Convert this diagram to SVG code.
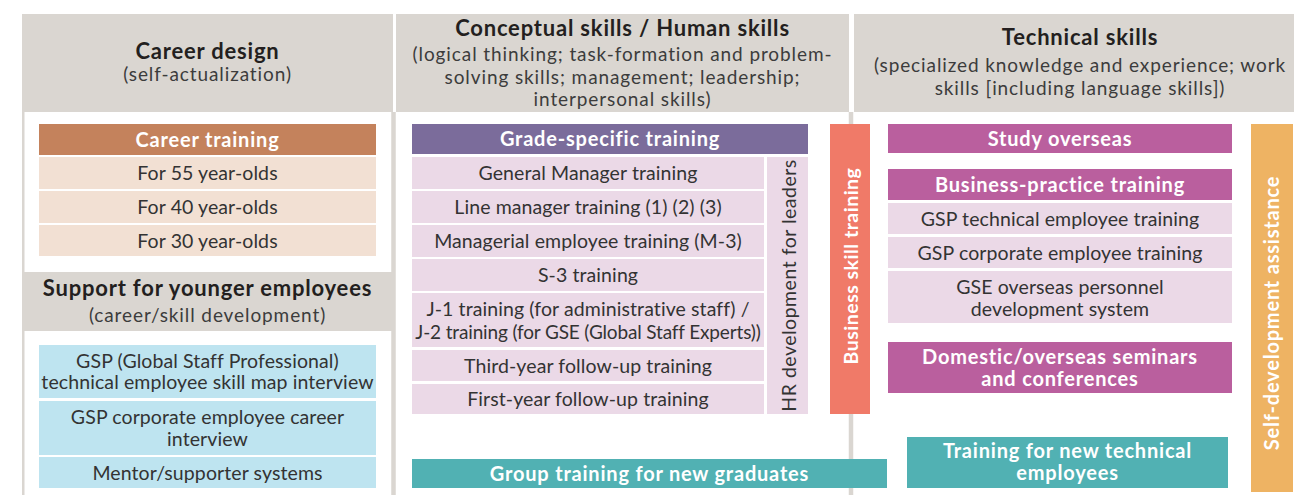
<svg xmlns="http://www.w3.org/2000/svg" width="1294" height="495" viewBox="0 0 1294 495">
<style>
.t{font-family:Lato,"Noto Sans","Liberation Sans",sans-serif;text-anchor:middle}
.hdr{fill:#DAD6D1}
.sep{stroke:#DAD6D1;fill:none}
.hb{font-weight:700;font-size:22px;letter-spacing:0.8px;fill:#231F20}
.hs{font-size:19px;letter-spacing:0.9px;fill:#3C3C3C}
.wb{font-weight:700;font-size:20px;letter-spacing:0.8px;fill:#FFFFFF}
.r{font-size:19.5px;letter-spacing:0.1px;fill:#333333}
.peach{fill:#F2E0D3}
.blue{fill:#BEE4F0}
.lav{fill:#EBD9E7}
.mag{fill:#BA5F9E}
.teal{fill:#51B1B3}
</style>
<rect width="1294" height="495" fill="#FFFFFF"/>
<g id="frame">
<line class="sep" x1="23.25" y1="112" x2="23.25" y2="495" stroke-width="2.5"/>
<line class="sep" x1="393.5" y1="112" x2="393.5" y2="495" stroke-width="4.5"/>
<line class="sep" x1="851" y1="112" x2="851" y2="495" stroke-width="4.5"/>
</g>
<g id="hdr-career-design">
<rect class="hdr" x="22" y="14" width="371" height="98"/>
<text class="t hb" x="207.5" y="59">Career design</text>
<text class="t hs" x="207.5" y="81">(self-actualization)</text>
</g>
<g id="hdr-conceptual">
<rect class="hdr" x="396" y="14" width="453" height="98"/>
<text class="t hb" x="622.5" y="35.5">Conceptual skills / Human skills</text>
<text class="t hs" x="622.5" y="61">(logical thinking; task-formation and problem-</text>
<text class="t hs" x="622.5" y="83.5">solving skills; management; leadership;</text>
<text class="t hs" x="622.5" y="106">interpersonal skills)</text>
</g>
<g id="hdr-technical">
<rect class="hdr" x="854" y="14" width="440" height="98"/>
<text class="t hb" x="1080" y="45">Technical skills</text>
<text class="t hs" x="1080" y="72">(specialized knowledge and experience; work</text>
<text class="t hs" x="1080" y="95">skills [including language skills])</text>
</g>
<g id="career-training">
<rect x="39" y="124" width="337" height="31" fill="#C4825C"/>
<text class="t wb" x="207.5" y="146.5">Career training</text>
</g>
<g id="for-55">
<rect class="peach" x="39" y="157" width="337" height="32"/>
<text class="t r" x="207.5" y="180">For 55 year-olds</text>
</g>
<g id="for-40">
<rect class="peach" x="39" y="191" width="337" height="32"/>
<text class="t r" x="207.5" y="214">For 40 year-olds</text>
</g>
<g id="for-30">
<rect class="peach" x="39" y="225" width="337" height="31"/>
<text class="t r" x="207.5" y="247.5">For 30 year-olds</text>
</g>
<g id="hdr-support">
<rect class="hdr" x="22" y="272" width="371" height="59"/>
<text class="t hb" x="207.5" y="296">Support for younger employees</text>
<text class="t hs" x="207.5" y="322">(career/skill development)</text>
</g>
<g id="gsp-skill-map">
<rect class="blue" x="39" y="345" width="337" height="53"/>
<text class="t r" x="207.5" y="367.5">GSP (Global Staff Professional)</text>
<text class="t r" x="207.5" y="389">technical employee skill map interview</text>
</g>
<g id="gsp-career-interview">
<rect class="blue" x="39" y="401" width="337" height="54"/>
<text class="t r" x="207.5" y="423.5">GSP corporate employee career</text>
<text class="t r" x="207.5" y="445.5">interview</text>
</g>
<g id="mentor">
<rect class="blue" x="39" y="457" width="337" height="31"/>
<text class="t r" x="207.5" y="479.5">Mentor/supporter systems</text>
</g>
<g id="grade-specific">
<rect x="412" y="124" width="396" height="30" fill="#7B6C9B"/>
<text class="t wb" x="610" y="146">Grade-specific training</text>
</g>
<g id="gm-training">
<rect class="lav" x="412" y="157" width="352" height="32"/>
<text class="t r" x="588" y="180">General Manager training</text>
</g>
<g id="line-mgr">
<rect class="lav" x="412" y="191" width="352" height="32"/>
<text class="t r" x="588" y="214">Line manager training (1) (2) (3)</text>
</g>
<g id="managerial">
<rect class="lav" x="412" y="225" width="352" height="32"/>
<text class="t r" x="588" y="248">Managerial employee training (M-3)</text>
</g>
<g id="s3">
<rect class="lav" x="412" y="259" width="352" height="32"/>
<text class="t r" x="588" y="282">S-3 training</text>
</g>
<g id="j1-j2">
<rect class="lav" x="412" y="293" width="352" height="54"/>
<text class="t r" x="588" y="316">J-1 training (for administrative staff) /</text>
<text class="t r" x="588" y="338.5" style="font-size:19px;letter-spacing:-0.15px">J-2 training (for GSE (Global Staff Experts))</text>
</g>
<g id="third-year">
<rect class="lav" x="412" y="350" width="352" height="31"/>
<text class="t r" x="588" y="372.5">Third-year follow-up training</text>
</g>
<g id="first-year">
<rect class="lav" x="412" y="384" width="352" height="30"/>
<text class="t r" x="588" y="406">First-year follow-up training</text>
</g>
<g id="hr-leaders">
<rect class="lav" x="767" y="157" width="41" height="257"/>
<text class="t r" x="788" y="285.5" dominant-baseline="central" transform="rotate(-90 788 285.5)" style="letter-spacing:0.5px">HR development for leaders</text>
</g>
<g id="business-skill">
<rect x="830" y="124" width="40" height="290" fill="#F07A68"/>
<text class="t wb" x="850" y="266" dominant-baseline="central" transform="rotate(-90 850 266)" style="font-size:19.5px;letter-spacing:0.5px">Business skill training</text>
</g>
<g id="group-training">
<rect class="teal" x="412" y="459" width="475" height="29"/>
<text class="t wb" x="649.5" y="480.5">Group training for new graduates</text>
</g>
<g id="study-overseas">
<rect class="mag" x="888" y="124" width="344" height="29"/>
<text class="t wb" x="1060" y="145.5">Study overseas</text>
</g>
<g id="business-practice">
<rect class="mag" x="888" y="169" width="344" height="31"/>
<text class="t wb" x="1060" y="192">Business-practice training</text>
</g>
<g id="gsp-tech-training">
<rect class="lav" x="888" y="203" width="344" height="31"/>
<text class="t r" x="1060" y="225.5">GSP technical employee training</text>
</g>
<g id="gsp-corp-training">
<rect class="lav" x="888" y="237" width="344" height="31"/>
<text class="t r" x="1060" y="259.5">GSP corporate employee training</text>
</g>
<g id="gse-overseas">
<rect class="lav" x="888" y="271" width="344" height="52"/>
<text class="t r" x="1060" y="294">GSE overseas personnel</text>
<text class="t r" x="1060" y="316">development system</text>
</g>
<g id="seminars">
<rect class="mag" x="888" y="342" width="344" height="51"/>
<text class="t wb" x="1060" y="364">Domestic/overseas seminars</text>
<text class="t wb" x="1060" y="386">and conferences</text>
</g>
<g id="new-technical">
<rect class="teal" x="907" y="437" width="321" height="51"/>
<text class="t wb" x="1067.5" y="458">Training for new technical</text>
<text class="t wb" x="1067.5" y="480">employees</text>
</g>
<g id="self-development">
<rect x="1251" y="124" width="42" height="368" fill="#EEB363"/>
<text class="t wb" x="1271" y="313" dominant-baseline="central" transform="rotate(-90 1271 313)">Self-development assistance</text>
</g>
</svg>
